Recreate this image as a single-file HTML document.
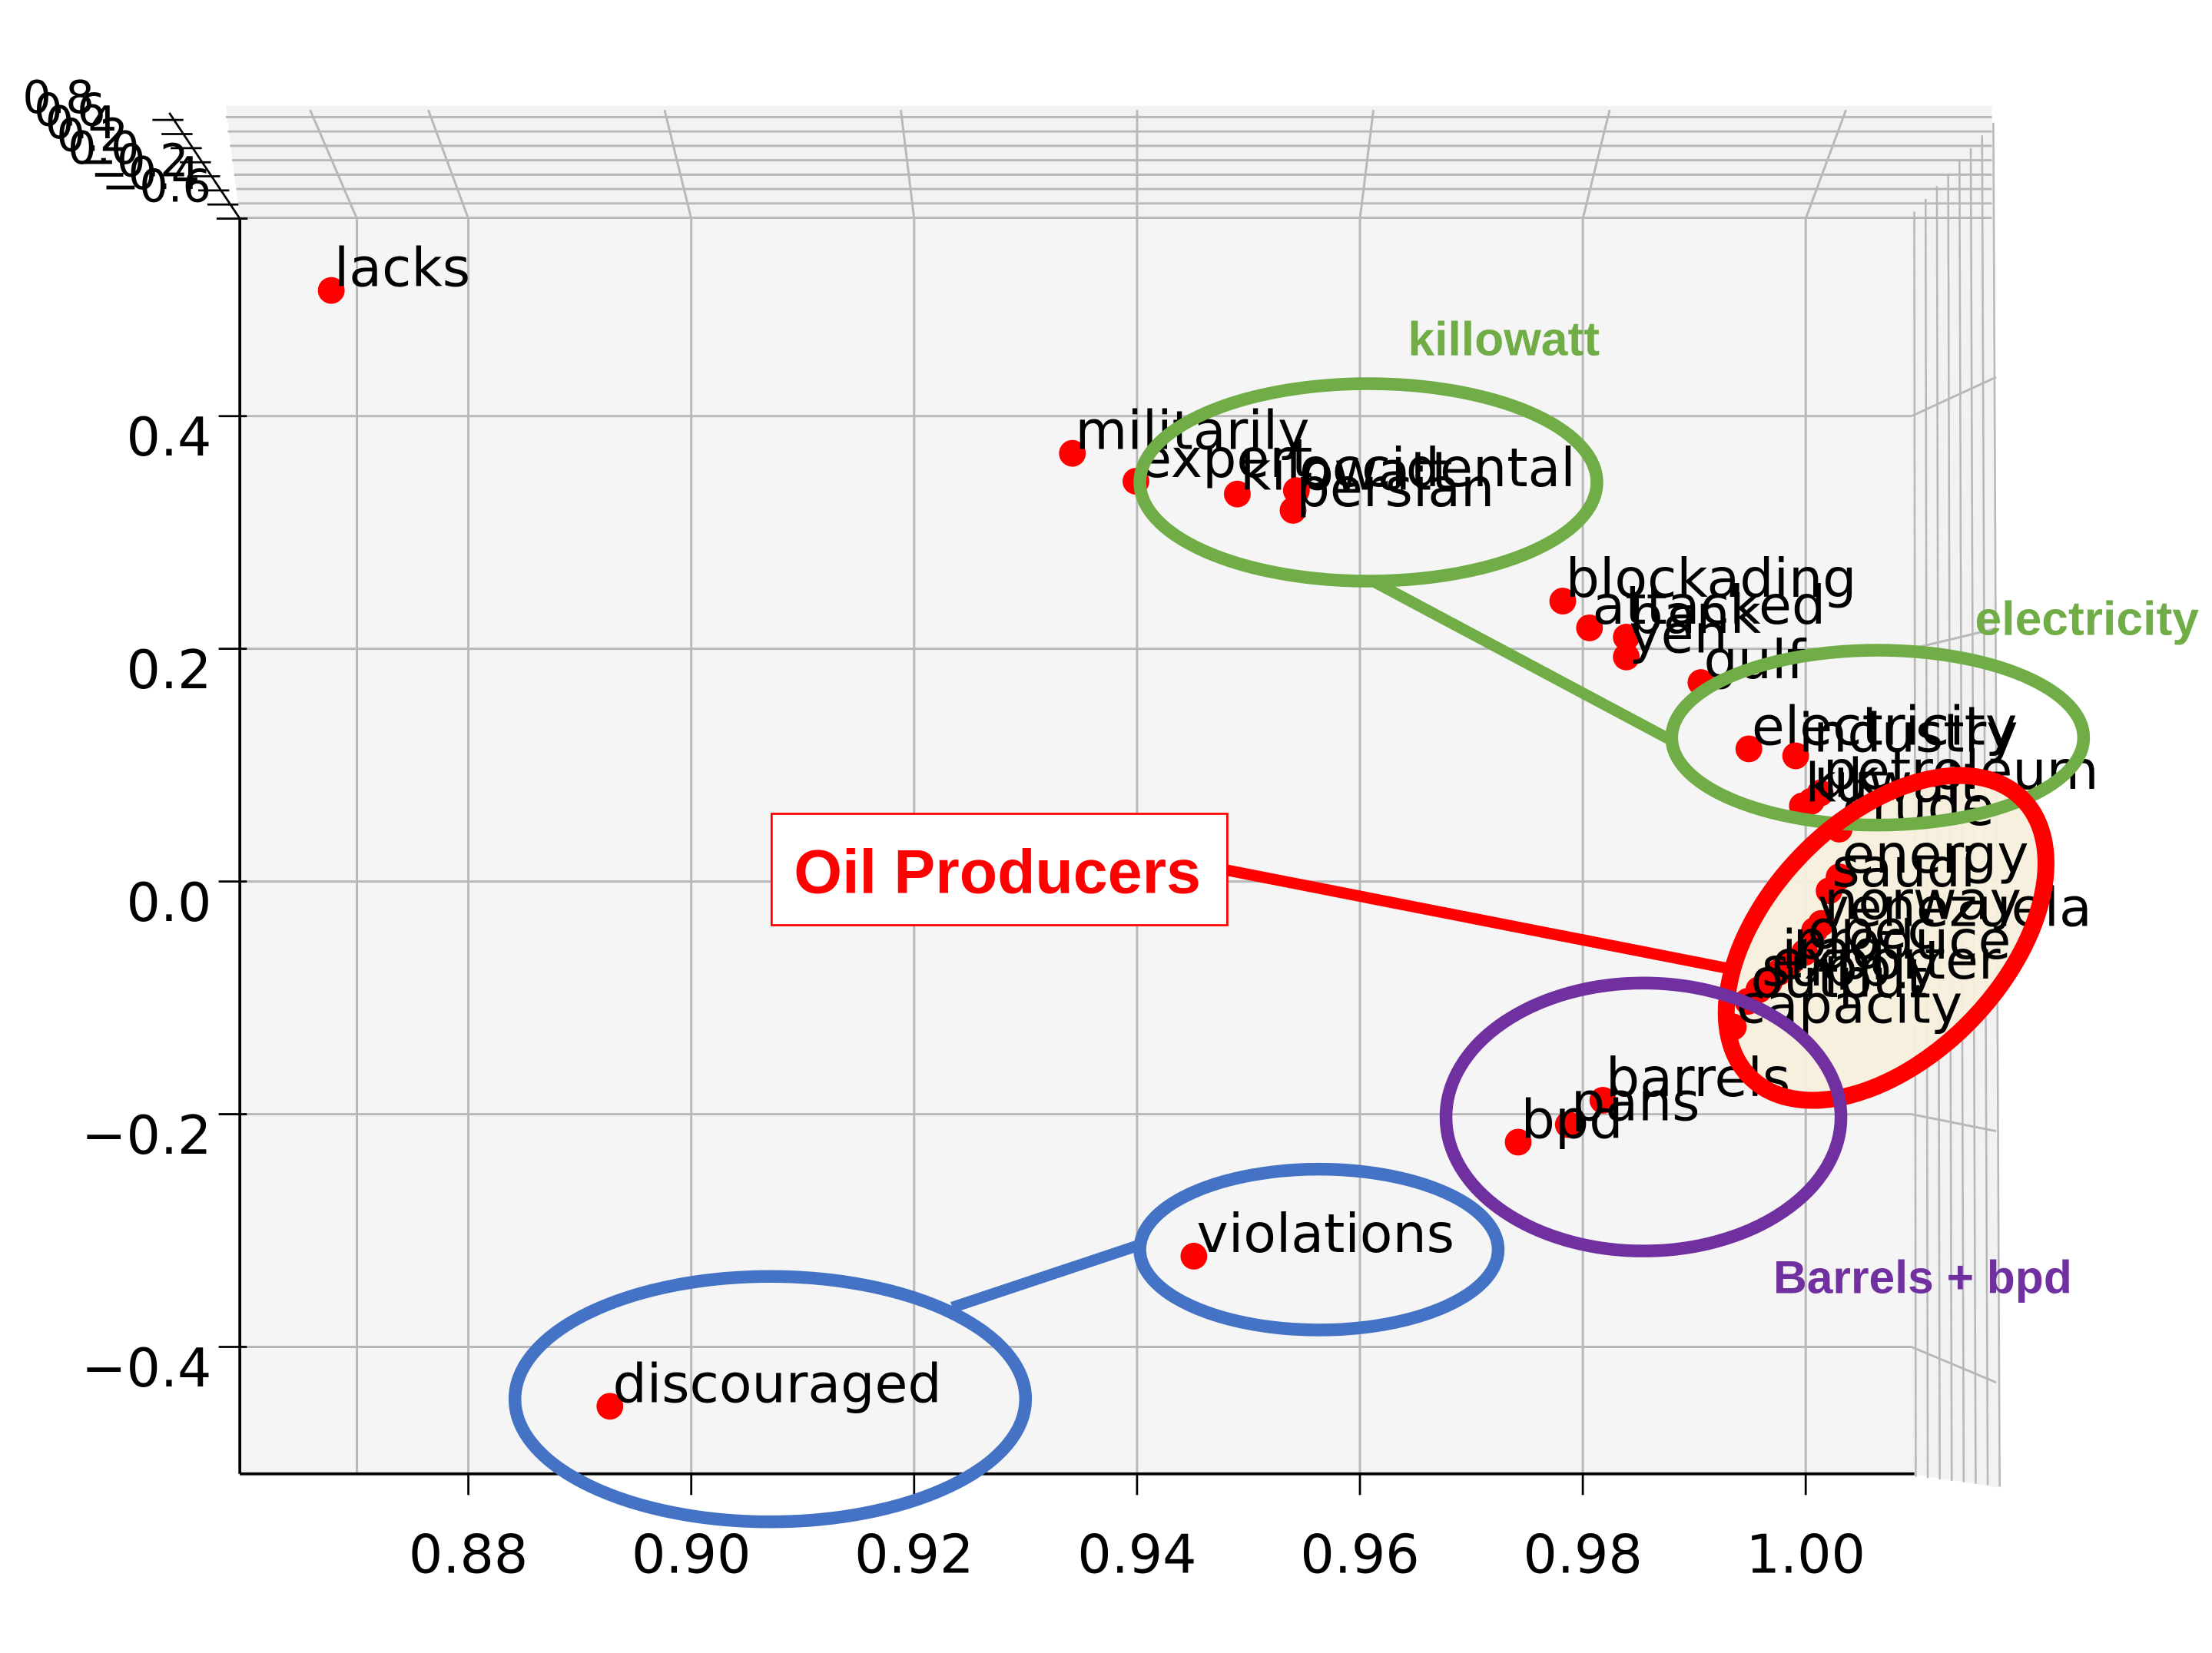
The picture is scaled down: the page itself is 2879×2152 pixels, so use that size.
<!DOCTYPE html>
<html><head><meta charset="utf-8"><style>
html,body{margin:0;padding:0;background:#fff;}
svg{display:block;}
text{font-family:"DejaVu Sans","Liberation Sans",sans-serif;}
.ann{font-family:"Liberation Sans",sans-serif;font-weight:bold;}
</style></head><body>
<svg id="chart" width="2879" height="2152" viewBox="0 0 1568 1172" xmlns="http://www.w3.org/2000/svg">
<g id="panes">
<polygon points="170,155 1355,155 1412,75 160,75" fill="#f2f2f2"/>
<polygon points="1355,155 1412,75 1418,1055 1355,1045" fill="#f2f2f2"/>
<rect x="170" y="155" width="1185" height="890" fill="#f5f5f5"/>
</g>
<g id="grid"></g>
<g id="axes"></g>
<g id="cluster-bg">
<ellipse cx="1337" cy="665" rx="84" ry="138" transform="rotate(44 1337 665)" fill="#f7efdc" opacity="0.95"/>
</g>
<g id="marks"></g>
<g id="annotations">
<ellipse cx="970" cy="342" rx="162" ry="70" fill="none" stroke="#70ad47" stroke-width="9"/>
<line x1="975" y1="413" x2="1185" y2="525" stroke="#70ad47" stroke-width="8"/>
<ellipse cx="1331" cy="523" rx="146" ry="62" fill="none" stroke="#70ad47" stroke-width="9"/>
<text class="ann" x="998" y="252" font-size="34" fill="#70ad47">killowatt</text>
<text class="ann" x="1400" y="450" font-size="34" fill="#70ad47">electricity</text>
<ellipse cx="1337" cy="665" rx="84" ry="138" transform="rotate(44 1337 665)" fill="none" stroke="#ff0000" stroke-width="12"/>
<line x1="870" y1="617" x2="1232" y2="688" stroke="#ff0000" stroke-width="8"/>
<rect x="547" y="577" width="323" height="79" fill="#fff" stroke="#ff0000" stroke-width="1.5"/>
<text class="ann" x="707" y="633" font-size="44" fill="#ff0000" text-anchor="middle">Oil Producers</text>
<ellipse cx="1165" cy="792" rx="140" ry="95" fill="none" stroke="#7030a0" stroke-width="9"/>
<text class="ann" x="1257" y="917" font-size="33" fill="#7030a0">Barrels + bpd</text>
<ellipse cx="935" cy="886" rx="127" ry="57" fill="none" stroke="#4472c4" stroke-width="9"/>
<ellipse cx="546" cy="992" rx="181" ry="87" fill="none" stroke="#4472c4" stroke-width="9"/>
<line x1="675" y1="927" x2="810" y2="882" stroke="#4472c4" stroke-width="8"/>
</g>
</svg>
<script>
const words = ["lacks","militarily","expert","kilowatt","occidental","persian","blockading","attacked","bank","yen","gulf","electricity","industry","petroleum","uk","kuwait","crude","energy","saudi","norway","venezuela","opec","produce","iraq","exporter","supply","output","capacity","barrels","pans","bpd","violations","discouraged"];
const xVals = [0.8677,0.9342,0.9399,0.9490,0.9543,0.9540,0.9782,0.9806,0.9839,0.9839,0.9906,0.9949,0.9991,1.0013,1.0005,0.9997,1.0030,1.0030,1.0021,1.0014,1.0008,0.9999,0.9986,0.9976,0.9967,0.9958,0.9948,0.9935,0.9818,0.9787,0.9742,0.9451,0.8927];
const yVals = [0.508,0.368,0.344,0.333,0.336,0.319,0.241,0.218,0.210,0.193,0.171,0.114,0.108,0.076,0.069,0.065,0.045,0.004,-0.008,-0.036,-0.042,-0.061,-0.070,-0.078,-0.087,-0.093,-0.103,-0.125,-0.188,-0.209,-0.224,-0.322,-0.451];
const xTicks = [0.88,0.90,0.92,0.94,0.96,0.98,1.00];
const xTickLabels = ["0.88","0.90","0.92","0.94","0.96","0.98","1.00"];
const yTicks = [0.4,0.2,0.0,-0.2,-0.4];
const yTickLabels = ["0.4","0.2","0.0","\u22120.2","\u22120.4"];
const zTickLabels = ["0.8","0.6","0.4","0.2","0.0","\u22120.2","\u22120.4","\u22120.6"];

const NS="http://www.w3.org/2000/svg";
function xs(v){return 490+(v-0.90)*7900;}
function ys(v){return 625-v*825;}
function mk(tag,attrs,parent){const e=document.createElementNS(NS,tag);for(const k in attrs)e.setAttribute(k,attrs[k]);parent.appendChild(e);return e;}
const grid=document.getElementById('grid'), axes=document.getElementById('axes'), marks=document.getElementById('marks');
const G="#b8b8b8";
[0.87].concat(xTicks).forEach(v=>{const x=xs(v);
 let l=mk('line',{x1:x,y1:155,x2:x,y2:1045,stroke:G,'stroke-width':1.6},grid);
 
 
 let l2=mk('line',{x1:x,y1:155,x2:805+(x-805)*1.06,y2:78,stroke:G,'stroke-width':1.6},grid);
 
 
});
yTicks.forEach(v=>{const y=ys(v);
 let l=mk('line',{x1:170,y1:y,x2:1355,y2:y,stroke:G,'stroke-width':1.6},grid);
 
 
 let l2=mk('line',{x1:1355,y1:y,x2:1415,y2:y+(y-640)*0.08,stroke:G,'stroke-width':1.6},grid);
 
 
});
for(let i=0;i<8;i++){const y=83+i*10.2;
 let l=mk('line',{x1:160+i*1.5,y1:y,x2:1412,y2:y,stroke:G,'stroke-width':1.6},grid);
 
 
 let l2=mk('line',{x1:1357+i*8,y1:150-i*9,x2:1358+i*8.5,y2:1047+i*1,stroke:G,'stroke-width':1.4},grid);
 
 
}
let a1=mk('line',{x1:170,y1:155,x2:170,y2:1045,stroke:'#000','stroke-width':2},axes);


let a2=mk('line',{x1:170,y1:1045,x2:1357,y2:1045,stroke:'#000','stroke-width':2},axes);


let a3=mk('line',{x1:170,y1:155,x2:120,y2:80,stroke:'#000','stroke-width':1.5},axes);


xTicks.forEach((v,i)=>{const x=xs(v);
 let t=mk('line',{x1:x,y1:1045,x2:x,y2:1060,stroke:'#000','stroke-width':1.5},axes);
 
 
 let tx=mk('text',{x:x,y:1115,'font-size':38,'text-anchor':'middle',fill:'#000'},axes);
 tx.textContent=xTickLabels[i];
 
 
});
yTicks.forEach((v,i)=>{const y=ys(v);
 let t=mk('line',{x1:155,y1:y,x2:175,y2:y,stroke:'#000','stroke-width':1.5},axes);
 
 
 let tx=mk('text',{x:150,y:y+28,'font-size':38,'text-anchor':'end',fill:'#000'},axes);
 tx.textContent=yTickLabels[i];
 
 
});
zTickLabels.forEach((s,i)=>{
 let t=mk('line',{x1:108+i*6.5,y1:85+i*10,x2:130+i*6.5,y2:85+i*10,stroke:'#000','stroke-width':1.5},axes);
 
 
 let tx=mk('text',{x:16+i*8,y:80+i*9,'font-size':32,fill:'#000'},axes);
 tx.textContent=s;
 
 
});
words.forEach((w,i)=>{const x=xs(xVals[i]), y=ys(yVals[i]);
 let c=mk('circle',{cx:x,cy:y,r:9.5,fill:'#ff0000'},marks);
 
 
 let t=mk('text',{x:x+2,y:y-3,'font-size':38,fill:'#000'},marks);
 t.textContent=w;
 
 
});
</script>
</body></html>
